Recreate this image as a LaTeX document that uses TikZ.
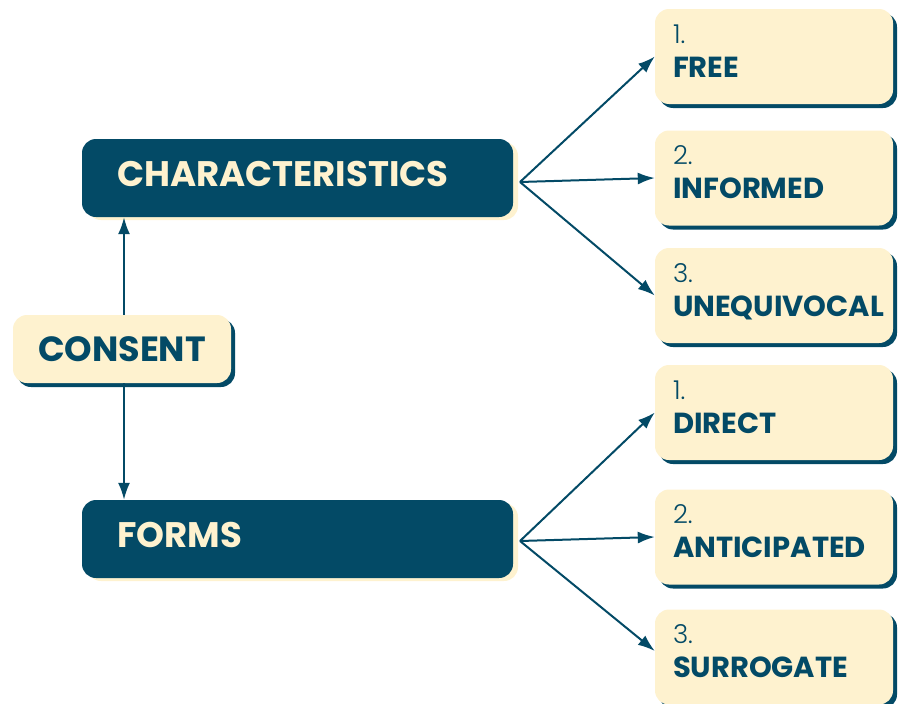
\documentclass[tikz,border=0pt]{standalone}
\usepackage{fontspec}
\setmainfont{Poppins}
\newfontfamily\thinfont{Poppins Light}
\usetikzlibrary{shadows,arrows.meta}

\definecolor{navy}{RGB}{3,74,102}
\definecolor{cream}{RGB}{254,242,207}

\begin{document}
\begin{tikzpicture}[x=1pt,y=-1pt,
  topic/.style={rectangle, rounded corners=14pt, fill=navy, text=cream, font=\fontsize{35.5}{40}\selectfont\bfseries, minimum width=431pt, minimum height=78pt, text width=361pt, inner xsep=35pt, align=left, text height=25pt, text depth=8pt, drop shadow={shadow xshift=5pt, shadow yshift=-3pt, fill=cream, opacity=1}},
  root/.style={rectangle, rounded corners=14pt, fill=cream, text=navy, font=\fontsize{35}{40}\selectfont\bfseries, minimum width=218pt, minimum height=68pt, drop shadow={shadow xshift=4pt, shadow yshift=-4pt, fill=navy, opacity=1}},
  item/.style={rectangle, rounded corners=14pt, fill=cream, text=navy, font=\fontsize{29}{34}\selectfont, minimum width=238pt, minimum height=95pt, text width=202pt, inner xsep=18pt, align=left, text depth=45pt, drop shadow={shadow xshift=4pt, shadow yshift=-4pt, fill=navy, opacity=1}},
  link/.style={navy, line width=2pt, -{Latex[length=17pt,width=12pt]}}]

\useasboundingbox (0,0) rectangle (905,704);

\node[root] (consent) at (122,349) {CONSENT};
\node[topic] (char) at (297.5,178) {CHARACTERISTICS};
\node[topic] (forms) at (297.5,539) {FORMS};

% characteristics
\node[item] (free) at (774,56.5) {{\thinfont\fontsize{26}{34}\selectfont 1.}\\\textbf{FREE}};
\node[item] (informed) at (774,178) {{\thinfont\fontsize{26}{34}\selectfont 2.}\\\textbf{INFORMED}};
\node[item] (unequivocal) at (774,295.5) {{\thinfont\fontsize{26}{34}\selectfont 3.}\\\textbf{UNEQUIVOCAL}};

% forms
\node[item] (direct) at (774,412.5) {{\thinfont\fontsize{26}{34}\selectfont 1.}\\\textbf{DIRECT}};
\node[item] (anticipated) at (774,537) {{\thinfont\fontsize{26}{34}\selectfont 2.}\\\textbf{ANTICIPATED}};
\node[item] (surrogate) at (774,657) {{\thinfont\fontsize{26}{34}\selectfont 3.}\\\textbf{SURROGATE}};

\draw[link] ([xshift=2pt]consent.north) -- ([xshift=2pt]consent.north |- char.south);
\draw[link] ([xshift=2pt]consent.south) -- ([xshift=2pt]consent.south |- forms.north);

\coordinate (charfork) at (520,182);
\coordinate (formsfork) at (520,541);

\draw[link] (charfork) -- (free.west);
\draw[link] (charfork) -- (informed.west);
\draw[link] (charfork) -- (unequivocal.west);

\draw[link] (formsfork) -- (direct.west);
\draw[link] (formsfork) -- (anticipated.west);
\draw[link] (formsfork) -- ([yshift=6pt]surrogate.west);

\end{tikzpicture}
\end{document}
